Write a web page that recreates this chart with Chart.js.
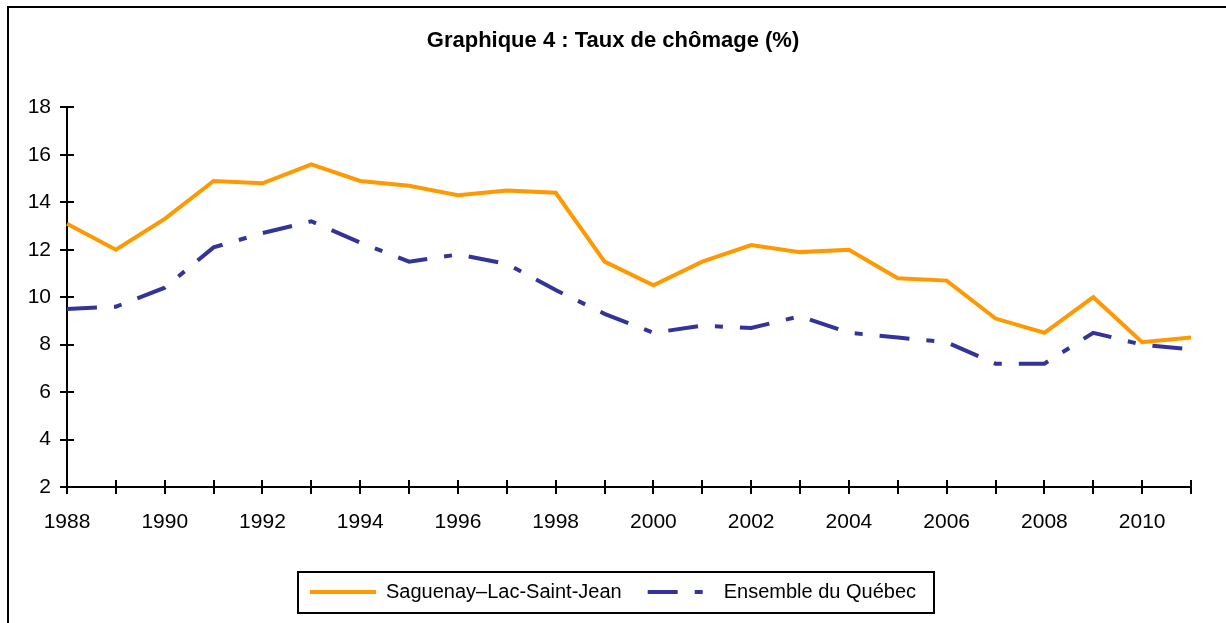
<!DOCTYPE html>
<html>
<head>
<meta charset="utf-8">
<script src="https://cdn.jsdelivr.net/npm/chart.js@4"></script>
<style>
  html, body { margin: 0; padding: 0; background: #fff; overflow: hidden; }
  #frame { position: absolute; left: 7px; top: 6px; width: 1300px; height: 700px; border: 2px solid #000; }
  #wrap { position: absolute; left: 0; top: 0; width: 1226px; height: 623px; }
</style>
</head>
<body>
<div id="frame"></div>
<div id="wrap"><canvas id="myCanvas"></canvas></div>
<script>
// data
var years = ['1988','1989','1990','1991','1992','1993','1994','1995','1996','1997','1998','1999',
             '2000','2001','2002','2003','2004','2005','2006','2007','2008','2009','2010','2011'];
var saguenay = [13.1, 12.0, 13.3, 14.9, 14.8, 15.6, 14.9, 14.7, 14.3, 14.5, 14.4, 11.5,
                10.5, 11.5, 12.2, 11.9, 12.0, 10.8, 10.7, 9.1, 8.5, 10.0, 8.1, 8.3];
var quebec = [9.5, 9.6, 10.4, 12.1, 12.7, 13.2, 12.3, 11.5, 11.8, 11.4, 10.3, 9.3,
              8.5, 8.8, 8.7, 9.2, 8.5, 8.3, 8.1, 7.2, 7.2, 8.5, 8.0, 7.8];
var y_min = 2;
var y_max = 18;
var y_step = 2;

var font_name = "'Liberation Sans', Arial, sans-serif";

// ticks that cross the axis: draw the half inside the plot
var crossTicks = {
    id: 'crossTicks',
    afterDraw: function(chart) {
        var ctx = chart.ctx;
        var area = chart.chartArea;
        var xs = chart.scales.x;
        var ys = chart.scales.y;
        ctx.save();
        ctx.strokeStyle = '#000';
        ctx.lineWidth = 2;
        ctx.beginPath();
        for (var i = 0; i < ys.ticks.length; i++) {
            var py = Math.round(ys.getPixelForTick(i));
            ctx.moveTo(area.left, py);
            ctx.lineTo(area.left + 7, py);
        }
        for (var j = 0; j < xs.ticks.length; j++) {
            var px = Math.round(xs.getPixelForTick(j));
            ctx.moveTo(px, area.bottom);
            ctx.lineTo(px, area.bottom - 7);
        }
        ctx.stroke();
        ctx.restore();
    }
};

// box around the legend
var legendBox = {
    id: 'legendBox',
    afterDraw: function(chart) {
        var boxes = chart.legend.legendHitBoxes;
        if (!boxes || !boxes.length) return;
        var first = boxes[0];
        var last = boxes[boxes.length - 1];
        var left = first.left - 12;
        var right = last.left + last.width + 18;
        var cy = first.top + first.height / 2;
        var ctx = chart.ctx;
        ctx.save();
        ctx.strokeStyle = '#000';
        ctx.lineWidth = 2;
        ctx.strokeRect(Math.round(left), Math.round(cy - 20.5), Math.round(right - left), 41);
        ctx.restore();
    }
};

var myChart = new Chart(document.getElementById('myCanvas'), {
    type: 'line',
    data: {
        labels: years,
        datasets: [{
            label: 'Saguenay\u2013Lac-Saint-Jean',
            data: saguenay,
            borderColor: '#FF9900',
            backgroundColor: '#FF9900',
            borderWidth: 4,
            pointRadius: 0,
            pointStyle: 'line',
            tension: 0,
            fill: false
        }, {
            label: 'Ensemble du Qu\u00e9bec',
            data: quebec,
            borderColor: '#333399',
            backgroundColor: '#333399',
            borderWidth: 4,
            borderDash: [30, 17, 8, 17],
            pointRadius: 0,
            pointStyle: 'line',
            tension: 0,
            fill: false
        }]
    },
    options: {
        responsive: true,
        maintainAspectRatio: false,
        animation: false,
        layout: { padding: { left: 0, right: 0, top: 0, bottom: 11 } },
        plugins: {
            title: {
                display: true,
                text: 'Graphique 4 : Taux de ch\u00f4mage (%)',
                color: '#000',
                font: { family: font_name, size: 22, weight: 'bold' },
                padding: { top: 28, bottom: 53 }
            },
            legend: {
                position: 'bottom',
                labels: {
                    color: '#000',
                    font: { family: font_name, size: 20 },
                    usePointStyle: true,
                    pointStyleWidth: 66,
                    padding: 26,
                    generateLabels: function(chart) {
                        var items = Chart.defaults.plugins.legend.labels.generateLabels(chart);
                        items.forEach(function(item) {
                            var ds = chart.data.datasets[item.datasetIndex];
                            item.lineDash = ds.borderDash || [];
                            item.lineWidth = ds.borderWidth;
                            item.strokeStyle = ds.borderColor;
                        });
                        return items;
                    }
                }
            },
            tooltip: { enabled: false }
        },
        scales: {
            x: {
                grid: { display: true, drawOnChartArea: false, color: '#000', lineWidth: 2, tickLength: 7 },
                border: { display: true, color: '#000', width: 2 },
                ticks: {
                    color: '#000',
                    font: { family: font_name, size: 21 },
                    autoSkip: false,
                    maxRotation: 0,
                    padding: 16,
                    callback: function(value, index) {
                        return index % 2 == 0 ? years[index] : '';
                    }
                },
                afterFit: function(scale) { scale.height = 69; }
            },
            y: {
                min: y_min,
                max: y_max,
                grid: { display: true, drawOnChartArea: false, color: '#000', lineWidth: 2, tickLength: 7 },
                border: { display: true, color: '#000', width: 2 },
                ticks: {
                    stepSize: y_step,
                    color: '#000',
                    font: { family: font_name, size: 21 },
                    padding: 9
                },
                afterFit: function(scale) { scale.width = 67; }
            },
            yRight: {
                position: 'right',
                display: true,
                grid: { display: false },
                border: { display: false },
                ticks: { display: false },
                afterFit: function(scale) { scale.width = 35; }
            }
        }
    },
    plugins: [crossTicks, legendBox]
});
</script>
</body>
</html>
